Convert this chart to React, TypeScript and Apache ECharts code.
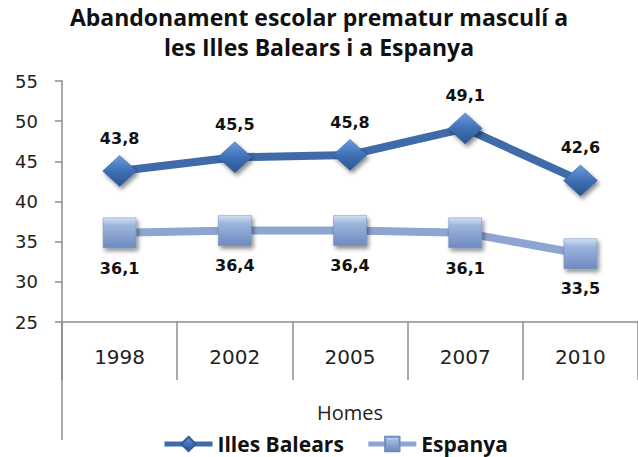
import React, { useEffect, useRef } from "react";
import * as echarts from "echarts";

const years = ["1998", "2002", "2005", "2007", "2010"];
const balears = [43.8, 45.5, 45.8, 49.1, 42.6];
const espanya = [36.1, 36.4, 36.4, 36.1, 33.5];
const titleText = "Abandonament escolar prematur masculí a\nles Illes Balears i a Espanya";
const axisName = "Homes";

const fmt = (p: any) => String(p.value).replace(".", ",");

export default function App() {
  const ref = useRef<HTMLDivElement>(null);
  useEffect(() => {
    if (!ref.current) return;
    const chart = echarts.init(ref.current, null, { renderer: "svg" });
    const axisColor = "#8c8c8c";
    chart.setOption({
      animation: false,
      backgroundColor: "#ffffff",
      title: {
        text: titleText,
        left: "center",
        top: 2,
        padding: [0, 0, 0, 22],
        textStyle: {
          fontFamily: "Open Sans",
          fontWeight: "bold",
          fontSize: 23,
          lineHeight: 30,
          color: "#111",
        },
      },
      legend: {
        left: 157,
        top: 427,
        itemWidth: 48,
        itemHeight: 18,
        itemGap: 22,
        lineStyle: { width: 5 },
        textStyle: {
          fontFamily: "Open Sans",
          fontWeight: "bold",
          fontSize: 21,
          lineHeight: 24,
          color: "#111",
        },
        data: ["Illes Balears", "Espanya"],
      },
      grid: { left: 62, right: -7, top: 81, bottom: 135 },
      xAxis: {
        type: "category",
        data: years,
        boundaryGap: true,
        name: axisName,
        nameLocation: "middle",
        nameGap: 80,
        nameTextStyle: { fontFamily: "Open Sans", fontSize: 20, color: "#222" },
        axisLine: { lineStyle: { color: axisColor, width: 1.5 } },
        axisTick: { show: true, length: 58, lineStyle: { color: axisColor, width: 1.5 } },
        axisLabel: {
          margin: 25,
          fontFamily: "DejaVu Sans",
          fontSize: 20,
          color: "#222",
        },
        splitLine: { show: false },
      },
      yAxis: {
        type: "value",
        min: 25,
        max: 55,
        interval: 5,
        axisLine: { show: true, lineStyle: { color: axisColor, width: 1.5 } },
        axisTick: { show: true, length: 7, lineStyle: { color: axisColor, width: 1.5 } },
        axisLabel: {
          margin: 24,
          fontFamily: "DejaVu Sans",
          fontSize: 18,
          color: "#222",
        },
        splitLine: { show: false },
      },
      graphic: [
        {
          type: "line",
          shape: { x1: 62, y1: 322, x2: 62, y2: 440 },
          style: { stroke: axisColor, lineWidth: 1.5 },
          silent: true,
        },
      ],
      series: [
        {
          name: "Illes Balears",
          type: "line",
          data: balears,
          symbol: "diamond",
          symbolSize: [34, 31],
          lineStyle: { color: "#3F6BA8", width: 8 },
          itemStyle: {
            color: new echarts.graphic.LinearGradient(0, 0, 0, 1, [
              { offset: 0, color: "#6b9be0" },
              { offset: 0.5, color: "#3f70b5" },
              { offset: 1, color: "#2b5590" },
            ]),
            borderColor: "#2f5b98",
            borderWidth: 0.5,
            shadowBlur: 4,
            shadowColor: "rgba(0,0,0,0.45)",
            shadowOffsetX: 2,
            shadowOffsetY: 3,
          },
          label: {
            show: true,
            position: "top",
            distance: 9,
            formatter: fmt,
            fontFamily: "DejaVu Sans",
            fontWeight: "bold",
            fontSize: 16,
            color: "#111",
          },
          z: 3,
        },
        {
          name: "Espanya",
          type: "line",
          data: espanya,
          symbol: "rect",
          symbolSize: [33, 30],
          lineStyle: { color: "#8DA5D0", width: 8 },
          itemStyle: {
            color: new echarts.graphic.LinearGradient(0, 0, 0, 1, [
              { offset: 0, color: "#d4e1f5" },
              { offset: 0.25, color: "#9fb6de" },
              { offset: 1, color: "#6d8bbf" },
            ]),
            borderColor: "#6f8cbd",
            borderWidth: 0.5,
            shadowBlur: 4,
            shadowColor: "rgba(0,0,0,0.45)",
            shadowOffsetX: 2,
            shadowOffsetY: 3,
          },
          label: {
            show: true,
            position: "bottom",
            distance: 12,
            formatter: fmt,
            fontFamily: "DejaVu Sans",
            fontWeight: "bold",
            fontSize: 16,
            color: "#111",
          },
          z: 2,
        },
      ],
    });
    return () => chart.dispose();
  }, []);
  return (
    <div
      ref={ref}
      style={{ position: "fixed", left: 0, top: 0, width: 638, height: 457, background: "#fff" }}
    />
  );
}
